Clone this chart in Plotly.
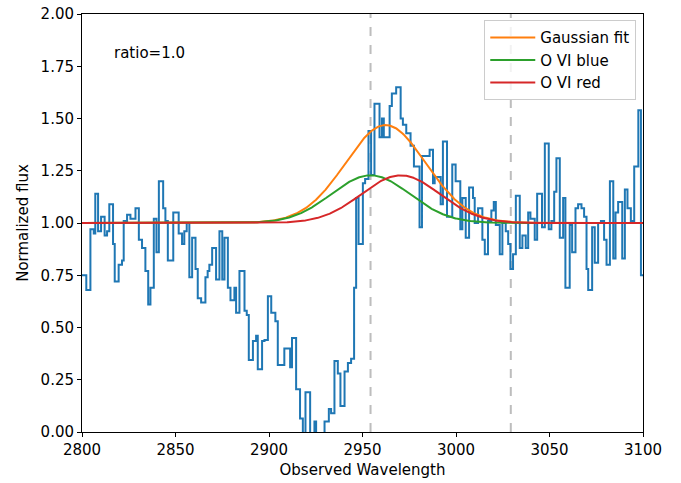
import numpy as np
import plotly.graph_objects as go

# Observed spectrum (bin left edges, normalized flux)
wave_edges = [
    2800.0, 2802.3, 2804.5, 2806.3, 2807.1, 2808.6, 2810.2, 2812.1, 2813.4, 2814.6,
    2816.6, 2817.5, 2819.6, 2821.4, 2822.3, 2824.1, 2825.9, 2828.6, 2830.4, 2832.1,
    2833.9, 2835.4, 2836.6, 2838.4, 2839.8, 2841.1, 2843.4, 2844.6, 2845.9, 2848.8,
    2851.7, 2853.5, 2854.7, 2856.0, 2857.4, 2858.9, 2860.7, 2861.9, 2863.7, 2866.0,
    2867.2, 2868.1, 2869.6, 2871.7, 2873.5, 2875.0, 2876.2, 2878.0, 2879.4, 2881.5,
    2882.4, 2884.2, 2886.9, 2888.1, 2889.2, 2891.4, 2893.1, 2894.0, 2896.3, 2897.6,
    2899.4, 2901.2, 2903.4, 2904.7, 2908.2, 2911.3, 2912.3, 2914.5, 2916.6, 2918.1,
    2919.5, 2922.0, 2924.3, 2925.2, 2929.7, 2932.0, 2933.2, 2935.0, 2936.8, 2938.2,
    2940.4, 2942.2, 2943.9, 2945.5, 2946.6, 2947.9, 2950.2, 2951.4, 2953.2, 2954.6,
    2956.4, 2959.1, 2960.4, 2961.4, 2964.5, 2965.7, 2968.0, 2970.4, 2971.6, 2973.4,
    2975.7, 2977.5, 2980.5, 2981.8, 2985.9, 2987.7, 2988.6, 2991.8, 2993.0, 2995.2,
    2998.0, 2999.8, 3002.3, 3003.4, 3005.2, 3007.0, 3009.1, 3010.0, 3011.8, 3014.1,
    3015.4, 3017.1, 3018.9, 3020.2, 3021.3, 3023.4, 3024.8, 3026.6, 3027.9, 3029.1,
    3030.5, 3032.0, 3034.1, 3035.5, 3037.3, 3038.6, 3039.8, 3042.1, 3043.4, 3046.0,
    3047.5, 3049.6, 3051.0, 3052.5, 3053.7, 3055.5, 3057.3, 3058.5, 3060.8, 3062.1,
    3063.9, 3065.3, 3067.1, 3068.5, 3069.8, 3070.7, 3072.8, 3074.2, 3076.0, 3077.5,
    3079.2, 3080.5, 3082.3, 3084.1, 3085.3, 3086.7, 3088.9, 3090.3, 3091.7, 3093.5,
    3095.3, 3097.5, 3098.9, 3100.0,
]
flux = [
    0.75, 0.68, 0.97, 0.95, 1.14, 0.96, 1.03, 0.94, 0.96, 1.09,
    0.90, 0.72, 0.80, 0.82, 1.01, 1.04, 1.02, 1.07, 0.92, 0.88,
    0.77, 0.61, 0.69, 1.02, 0.86, 1.20, 1.07, 1.01, 0.82, 1.05,
    0.95, 0.90, 0.96, 1.00, 0.74, 0.93, 0.78, 0.64, 0.62, 0.74,
    0.77, 0.80, 0.88, 0.73, 0.96, 0.73, 0.93, 0.69, 0.63, 0.69,
    0.57, 0.77, 0.58, 0.56, 0.345, 0.435, 0.46, 0.30, 0.435, 0.44,
    0.65, 0.57, 0.53, 0.32, 0.40, 0.31, 0.45, 0.205, 0.065, -0.02,
    0.19, -0.02, 0.05, -0.02, 0.05, 0.11, 0.09, 0.34, 0.28, 0.125,
    0.29, 0.33, 0.35, 0.69, 1.12, 0.90, 1.19, 1.21, 1.44, 1.23,
    1.57, 1.41, 1.50, 1.41, 1.56, 1.62, 1.65, 1.50, 1.47, 1.43,
    1.37, 1.27, 0.98, 1.32, 1.35, 1.19, 1.22, 1.09, 1.39, 1.03,
    1.28, 1.20, 0.97, 1.12, 0.93, 1.17, 1.12, 1.00, 1.07, 0.92,
    0.85, 1.01, 1.06, 1.10, 0.99, 0.85, 1.00, 0.96, 0.90, 0.78,
    0.85, 1.13, 0.88, 0.94, 0.88, 1.05, 1.02, 0.92, 1.14, 0.98,
    1.38, 0.97, 1.01, 1.15, 1.31, 0.93, 1.12, 0.69, 0.99, 0.86,
    1.07, 1.09, 1.07, 1.03, 0.78, 0.68, 0.98, 0.81, 1.00, 1.01,
    0.92, 0.80, 1.20, 0.83, 1.05, 1.10, 0.83, 1.16, 1.07, 1.01,
    1.27, 1.54, 0.75, 0.75,
]

# Gaussian model parameters (O VI doublet)
blue_center = 2954.3
red_center = 2970.4
amplitude = 0.228
sigma = 21.0
ratio = 1.0
marker_lines = [2954.3, 3029.3]

grid = np.linspace(2800, 3100, 800)
g_blue = 1 + amplitude * np.exp(-0.5 * ((grid - blue_center) / sigma) ** 2)
g_red = 1 + amplitude * ratio * np.exp(-0.5 * ((grid - red_center) / sigma) ** 2)
g_fit = g_blue * g_red

fig = go.Figure()
fig.add_trace(go.Scatter(x=wave_edges, y=flux, mode="lines", line_shape="hv",
                         line=dict(color="#1f77b4", width=2), showlegend=False))
fig.add_trace(go.Scatter(x=grid, y=g_fit, mode="lines", name="Gaussian fit",
                         line=dict(color="#ff7f0e", width=2)))
fig.add_trace(go.Scatter(x=grid, y=g_blue, mode="lines", name="O VI blue",
                         line=dict(color="#2ca02c", width=2)))
fig.add_trace(go.Scatter(x=grid, y=g_red, mode="lines", name="O VI red",
                         line=dict(color="#d62728", width=2)))

for xv in marker_lines:
    fig.add_shape(type="line", x0=xv, x1=xv, y0=0, y1=1, xref="x", yref="paper",
                  line=dict(color="#bdbdbd", width=2, dash="dash"), layer="below")

fig.add_annotation(x=2816.0, y=1.815, text="ratio=1.0", showarrow=False,
                   xanchor="left", yanchor="middle", font=dict(size=15, color="black"))

axis_common = dict(showline=True, linecolor="black", linewidth=1, mirror=True,
                   ticks="outside", ticklen=4, tickcolor="black", showgrid=False,
                   zeroline=False, tickfont=dict(size=15, color="black"))

fig.update_layout(
    width=681, height=483,
    margin=dict(l=82, r=38, t=14, b=51, autoexpand=False),
    plot_bgcolor="white", paper_bgcolor="white",
    font=dict(family="DejaVu Sans", size=15, color="black"),
    xaxis=dict(range=[2800, 3100], tickvals=[2800, 2850, 2900, 2950, 3000, 3050, 3100],
               title=dict(text="Observed Wavelength", font=dict(size=15), standoff=6),
               automargin=False, **axis_common),
    yaxis=dict(range=[0, 2.0], tickvals=[0, 0.25, 0.5, 0.75, 1.0, 1.25, 1.5, 1.75, 2.0],
               tickformat=".2f",
               title=dict(text="Normalized flux", font=dict(size=15), standoff=8),
               automargin=False, **axis_common),
    legend=dict(x=0.988, y=0.985, xanchor="right", yanchor="top",
                bgcolor="rgba(255,255,255,0.8)", bordercolor="#cccccc", borderwidth=1,
                font=dict(size=15), itemwidth=45, tracegroupgap=0),
)

fig.write_html("out.html")
